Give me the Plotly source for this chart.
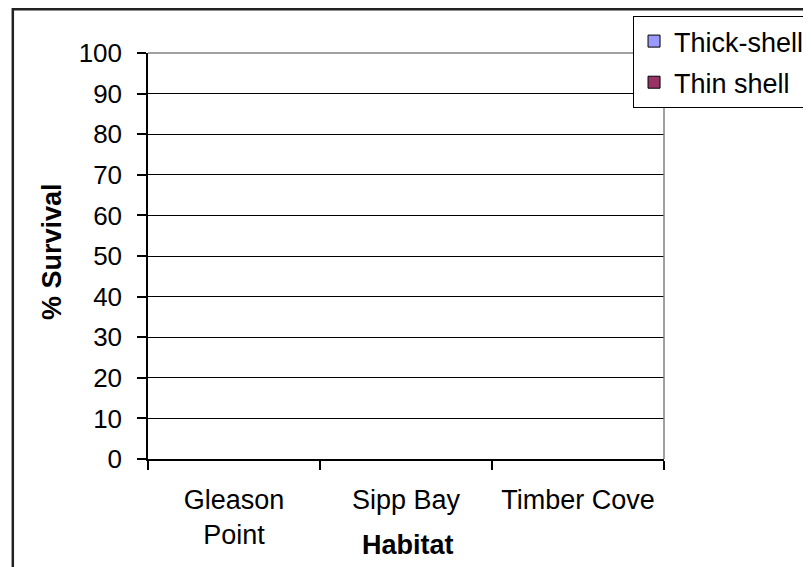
import plotly.graph_objects as go

categories = ["Gleason Point", "Sipp Bay", "Timber Cove"]
tick_labels = ["Gleason<br>Point", "Sipp Bay", "Timber Cove"]
thick_shell = [None, None, None]
thin_shell = [None, None, None]
y_ticks = list(range(0, 101, 10))

FONT = "Liberation Sans, Arial, sans-serif"

fig = go.Figure()
fig.add_trace(go.Bar(name="Thick-shell", x=categories, y=thick_shell,
                     marker=dict(color="#9999FF", line=dict(color="black", width=1)),
                     legendgroup="a"))
fig.add_trace(go.Bar(name="Thin shell", x=categories, y=thin_shell,
                     marker=dict(color="#993366", line=dict(color="black", width=1)),
                     legendgroup="b"))

fig.update_layout(
    width=803, height=559,
    margin=dict(l=140, r=147, t=45, b=108, autoexpand=False),
    paper_bgcolor="white", plot_bgcolor="white",
    font=dict(family=FONT, size=26, color="black"),
    showlegend=True,
    legend=dict(x=0.940, y=1.091, xanchor="left", yanchor="top",
                bgcolor="white", bordercolor="black", borderwidth=1,
                font=dict(size=27), traceorder="grouped", tracegroupgap=3,
                itemclick=False),
    xaxis=dict(type="category", categoryorder="array", categoryarray=categories,
               tickvals=categories, ticktext=tick_labels, tickfont=dict(size=27),
               range=[-0.5, 2.5], showline=True, linecolor="black", linewidth=1.5,
               ticks="outside", ticklen=9, tickcolor="black", tickwidth=1.5,
               tickson="boundaries", showgrid=False, zeroline=False,
               ticklabelstandoff=16, automargin=False),
    yaxis=dict(range=[0, 100], tickvals=y_ticks, showline=True, linecolor="black",
               linewidth=1.5, ticks="outside", ticklen=9, tickcolor="black",
               tickwidth=1.5, showgrid=True, gridcolor="black", gridwidth=1,
               zeroline=False, ticklabelstandoff=10, automargin=False),
    annotations=[
        dict(text="<b>Habitat</b>", xref="paper", yref="paper", x=0.504, y=-0.212,
             xanchor="center", yanchor="middle", showarrow=False,
             font=dict(size=27, family=FONT)),
        dict(text="<b>% Survival</b>", xref="paper", yref="paper", x=-0.186, y=0.51,
             xanchor="center", yanchor="middle", showarrow=False, textangle=-90,
             font=dict(size=27, family=FONT)),
    ],
    shapes=[
        dict(type="line", xref="paper", yref="paper", x0=0, x1=1, y0=1, y1=1,
             line=dict(color="#808080", width=1.5), layer="above"),
        dict(type="line", xref="paper", yref="paper", x0=1, x1=1, y0=0, y1=1,
             line=dict(color="#808080", width=1.5), layer="above"),
        dict(type="rect", xref="paper", yref="paper", x0=-0.262, x1=1.31,
             y0=-0.31, y1=1.108, line=dict(color="#222222", width=2.5),
             layer="below"),
    ],
)

fig.write_html("out.html")
